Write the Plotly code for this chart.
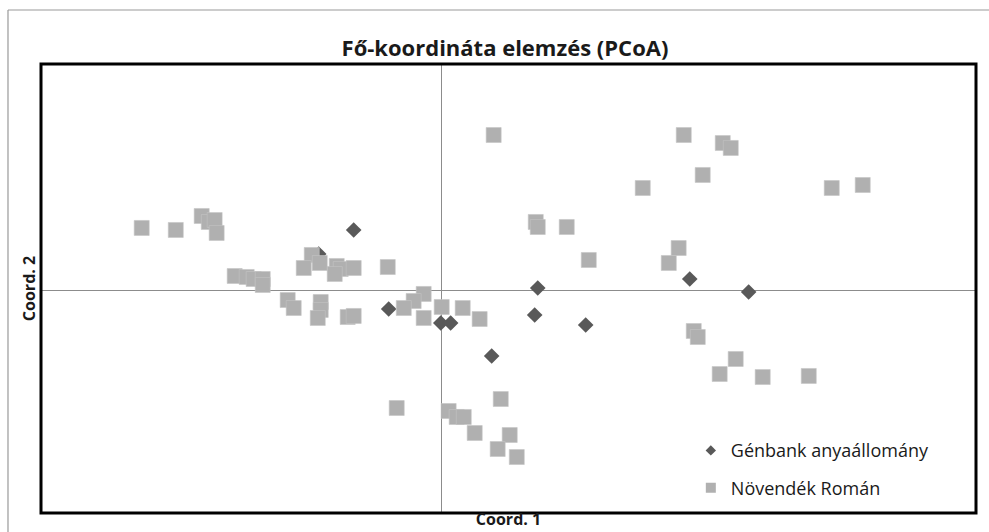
import plotly.graph_objects as go

# PCoA coordinates (Coord. 1, Coord. 2)
genbank_x = [-0.0921, -0.0659, -0.0397, -0.0007, 0.0067, 0.0374, 0.0696, 0.0719, 0.1078, 0.1857, 0.2298]
genbank_y = [0.0481, 0.0802, -0.0254, -0.0441, -0.0441, -0.0882, -0.0334, 0.0027, -0.0468, 0.0147, -0.0027]

roman_x = [
    -0.2246, -0.1991, -0.1797, -0.1744, -0.1700, -0.1685,
    -0.1550, -0.1460, -0.1408, -0.1340, -0.1340,
    -0.1153, -0.1108, -0.0906, -0.0906, -0.0928, -0.0704, -0.0659,
    -0.0973, -0.1033, -0.0913, -0.0786, -0.0756, -0.0801, -0.0659, -0.0404,
    -0.0135, -0.0210, -0.0284, -0.0135, 0.0000, 0.0157, 0.0284,
    -0.0337, 0.0052, 0.0112, 0.0165, 0.0247, 0.0442, 0.0509, 0.0419, 0.0562,
    0.0389, 0.1812, 0.2104, 0.2164, 0.1954, 0.1505, 0.2920, 0.3152,
    0.0704, 0.0719, 0.0936, 0.1101, 0.1774, 0.1700,
    0.1887, 0.1917, 0.2201, 0.2081, 0.2403, 0.2748,
]
roman_y = [
    0.0829, 0.0802, 0.0989, 0.0909, 0.0935, 0.0762,
    0.0187, 0.0174, 0.0147, 0.0147, 0.0067,
    -0.0134, -0.0241, -0.0160, -0.0267, -0.0374, -0.0361, -0.0347,
    0.0468, 0.0294, 0.0361, 0.0321, 0.0281, 0.0214, 0.0294, 0.0307,
    -0.0053, -0.0147, -0.0241, -0.0374, -0.0227, -0.0241, -0.0388,
    -0.1577, -0.1617, -0.1697, -0.1697, -0.1911, -0.1457, -0.1938, -0.2125, -0.2232,
    0.2071, 0.2071, 0.1964, 0.1898, 0.1537, 0.1363, 0.1363, 0.1403,
    0.0909, 0.0842, 0.0842, 0.0401, 0.0561, 0.0361,
    -0.0548, -0.0628, -0.0922, -0.1123, -0.1163, -0.1149,
]

series_names = ["Génbank anyaállomány", "Növendék Román"]
title_text = "Fő-koordináta elemzés (PCoA)"
x_title = "Coord. 1"
y_title = "Coord. 2"

DARK = "#595959"
LIGHT = "#b0b0b0"
FONT = "Open Sans, Noto Sans, sans-serif"

fig = go.Figure()

fig.add_trace(go.Scatter(
    x=genbank_x, y=genbank_y, mode="markers", showlegend=False,
    marker=dict(symbol="diamond", size=12, color=DARK, line=dict(width=0)),
))
fig.add_trace(go.Scatter(
    x=roman_x, y=roman_y, mode="markers", showlegend=False,
    marker=dict(symbol="square", size=15, color=LIGHT, line=dict(width=0.6, color="#c4c4c4")),
))

# legend entries with smaller key symbols
fig.add_trace(go.Scatter(
    x=[None], y=[None], mode="markers", name=series_names[0], legendgroup="a",
    marker=dict(symbol="diamond", size=8, color=DARK),
))
fig.add_trace(go.Scatter(
    x=[None], y=[None], mode="markers", name=series_names[1], legendgroup="b",
    marker=dict(symbol="square", size=10, color=LIGHT),
))

fig.update_layout(
    width=989, height=532,
    margin=dict(l=41, r=13, t=64, b=19),
    paper_bgcolor="white", plot_bgcolor="white",
    font=dict(family=FONT, color="#000000"),
    title=dict(text="<b>%s</b>" % title_text, x=0.5106, xanchor="center",
               y=0.91, yanchor="middle", font=dict(size=22, color="#1a1a1a")),
    showlegend=True,
    legend=dict(x=0.695, y=0.18, xanchor="left", yanchor="top",
                bgcolor="rgba(0,0,0,0)", font=dict(size=18, color="#1a1a1a"),
                traceorder="grouped", tracegroupgap=11),
    xaxis=dict(range=[-0.30, 0.40], showgrid=False, showticklabels=False, ticks="",
               automargin=False,
               zeroline=True, zerolinecolor="#8c8c8c", zerolinewidth=1.3,
               title=dict(text="<b>%s</b>" % x_title, standoff=0,
                          font=dict(size=16, color="#1a1a1a"))),
    yaxis=dict(range=[-0.298, 0.302], showgrid=False, showticklabels=False, ticks="",
               automargin=False,
               zeroline=True, zerolinecolor="#8c8c8c", zerolinewidth=1.3,
               title=dict(text="<b>%s</b>" % y_title, standoff=0,
                          font=dict(size=16, color="#1a1a1a"))),
    shapes=[
        dict(type="rect", xref="paper", yref="paper", x0=0, x1=1, y0=0, y1=1,
             line=dict(color="black", width=3), layer="above"),
        # outer chart frame (top and left edges)
        dict(type="line", xref="paper", yref="paper", x0=-0.0353, x1=1.1, y0=1.1203, y1=1.1203,
             line=dict(color="#9a9a9a", width=1.2), layer="below"),
        dict(type="line", xref="paper", yref="paper", x0=-0.0353, x1=-0.0353, y0=-0.1, y1=1.1203,
             line=dict(color="#9a9a9a", width=1.2), layer="below"),
    ],
)

fig.write_html("out.html")
